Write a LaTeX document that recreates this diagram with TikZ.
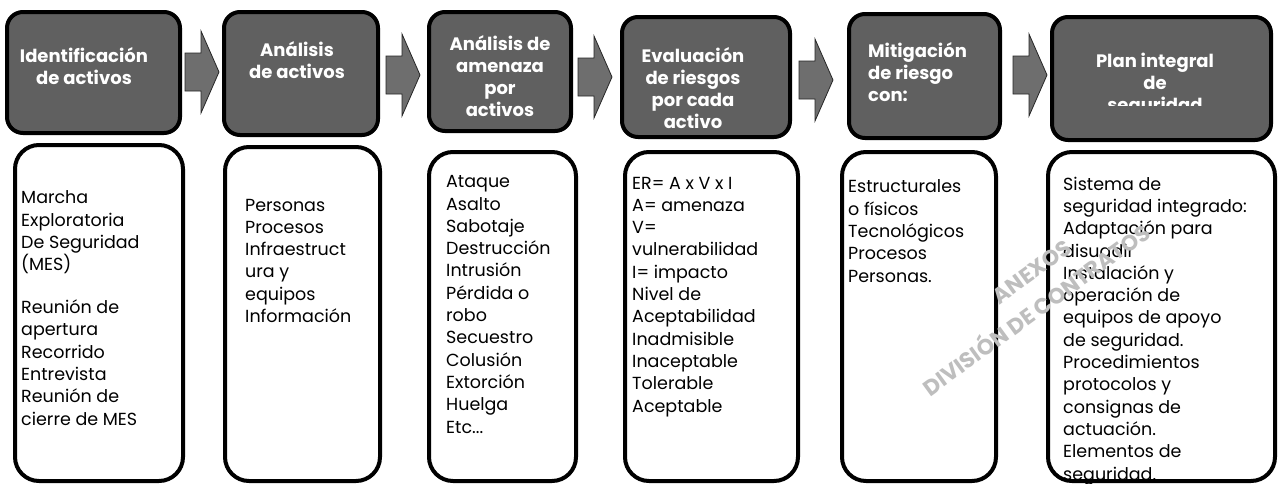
\documentclass[tikz,border=0pt]{standalone}
\usepackage{fontspec}
\setmainfont{Poppins}
\definecolor{topgray}{RGB}{96,96,96}
\definecolor{arrgray}{RGB}{110,110,110}
\definecolor{wmgray}{RGB}{190,190,190}
\tikzset{
  topbox/.style={draw=black, line width=4pt, fill=topgray, rounded corners=16pt, outer sep=0pt, inner sep=0pt},
  botbox/.style={draw=black, line width=4pt, fill=white, rounded corners=24pt, outer sep=0pt, inner sep=0pt},
  toptext/.style={text=white, font=\bfseries\fontsize{18}{22}\selectfont, align=center, inner sep=0pt},
  bodytext/.style={font=\fontsize{17.5}{22.3}\selectfont, align=left, inner sep=0pt, anchor=base west},
  blockarr/.style={fill=arrgray, draw=black!85, line width=0.8pt, line join=miter},
  wmtext/.style={text=wmgray, font=\bfseries\fontsize{22}{22}\selectfont, rotate=36, inner sep=0pt}
}
\newcommand{\blockarrow}[2]{%
  \draw[blockarr] (#1) ++(0,-19) -- ++(16,0) -- ++(0,-22) -- ++(18,41) -- ++(-18,41) -- ++(0,-22) -- ++(-16,0) -- cycle;}
\begin{document}
\begin{tikzpicture}[x=1pt,y=-1pt]
\useasboundingbox (0,0) rectangle (1278,483);
\fill[white] (0,0) rectangle (1278,483);
% top boxes
\node[topbox, anchor=north west, minimum width=173pt, minimum height=121pt] (t1) at (7,12) {};
\node[topbox, anchor=north west, minimum width=154pt, minimum height=123pt] (t2) at (224,12) {};
\node[topbox, anchor=north west, minimum width=142pt, minimum height=119pt] (t3) at (429,12) {};
\node[topbox, anchor=north west, minimum width=168pt, minimum height=120pt] (t4) at (622,17) {};
\node[topbox, anchor=north west, minimum width=151pt, minimum height=124pt] (t5) at (849,14) {};
\node[topbox, anchor=north west, minimum width=219pt, minimum height=123pt] (t6) at (1052,17) {};
% top texts
\node[toptext] (tt1) at (84,66) {Identificación\\de activos};
\node[toptext] (tt2) at (297,60) {Análisis\\de activos};
\node[toptext] (tt3) at (500,76) {Análisis de\\amenaza\\por\\activos};
\node[toptext] (tt4) at (693,88) {Evaluación\\de riesgos\\por cada\\activo};
\node[toptext, align=left, anchor=west] (tt5) at (868,72) {Mitigación\\de riesgo\\con:};
\begin{scope}
\clip (1054,19) rectangle (1269,105.5);
\node[toptext] (tt6) at (1155,85) {Plan integral\\de\\seguridad};
\end{scope}
% block arrows
\coordinate (a1) at (185,72);
\coordinate (a2) at (386,75);
\coordinate (a3) at (578,77);
\coordinate (a4) at (799,80);
\coordinate (a5) at (1013,75);
\blockarrow{a1}{}
\blockarrow{a2}{}
\blockarrow{a3}{}
\blockarrow{a4}{}
\blockarrow{a5}{}
% bottom boxes
\node[botbox, anchor=north west, minimum width=168pt, minimum height=336pt] (b1) at (15,145) {};
\node[botbox, anchor=north west, minimum width=155pt, minimum height=334pt] (b2) at (225,147) {};
\node[botbox, anchor=north west, minimum width=147pt, minimum height=329pt] (b3) at (429,152) {};
\node[botbox, anchor=north west, minimum width=173pt, minimum height=329pt] (b4) at (625,152) {};
\node[botbox, anchor=north west, minimum width=154pt, minimum height=329pt] (b5) at (842,152) {};
\node[botbox, anchor=north west, minimum width=227pt, minimum height=329pt] (b6) at (1048,152) {};
% bottom texts (anchored at the baseline of the last line)
\node[bodytext] (bt1) at (21,425) {Marcha\\Exploratoria\\De Seguridad\\(MES)\\[20.5pt]Reunión de\\apertura\\Recorrido\\Entrevista\\Reunión de\\cierre de MES};
\node[bodytext] (bt2) at (245,322.5) {Personas\\Procesos\\Infraestruct\\ura y\\equipos\\Información};
\node[bodytext] (bt3) at (446,433) {Ataque\\Asalto\\Sabotaje\\Destrucción\\Intrusión\\Pérdida o\\robo\\Secuestro\\Colusión\\Extorción\\Huelga\\Etc...};
\node[bodytext] (bt4) at (632,412) {ER= A x V x I\\A= amenaza\\V=\\vulnerabilidad\\I= impacto\\Nivel de\\Aceptabilidad\\Inadmisible\\Inaceptable\\Tolerable\\Aceptable};
\node[bodytext] (bt5) at (848,282) {Estructurales\\o físicos\\Tecnológicos\\Procesos\\Personas.};
\node[bodytext] (bt6) at (1063,480) {Sistema de\\seguridad integrado:\\Adaptación para\\disuadir\\Instalación y\\operación de\\equipos de apoyo\\de seguridad.\\Procedimientos\\protocolos y\\consignas de\\actuación.\\Elementos de\\seguridad.};
% watermark
\node[wmtext] (wm1) at (1032,272) {ANEXOS};
\node[wmtext] (wm2) at (1035,308) {DIVISIÓN DE CONTRATOS};
\end{tikzpicture}
\end{document}
